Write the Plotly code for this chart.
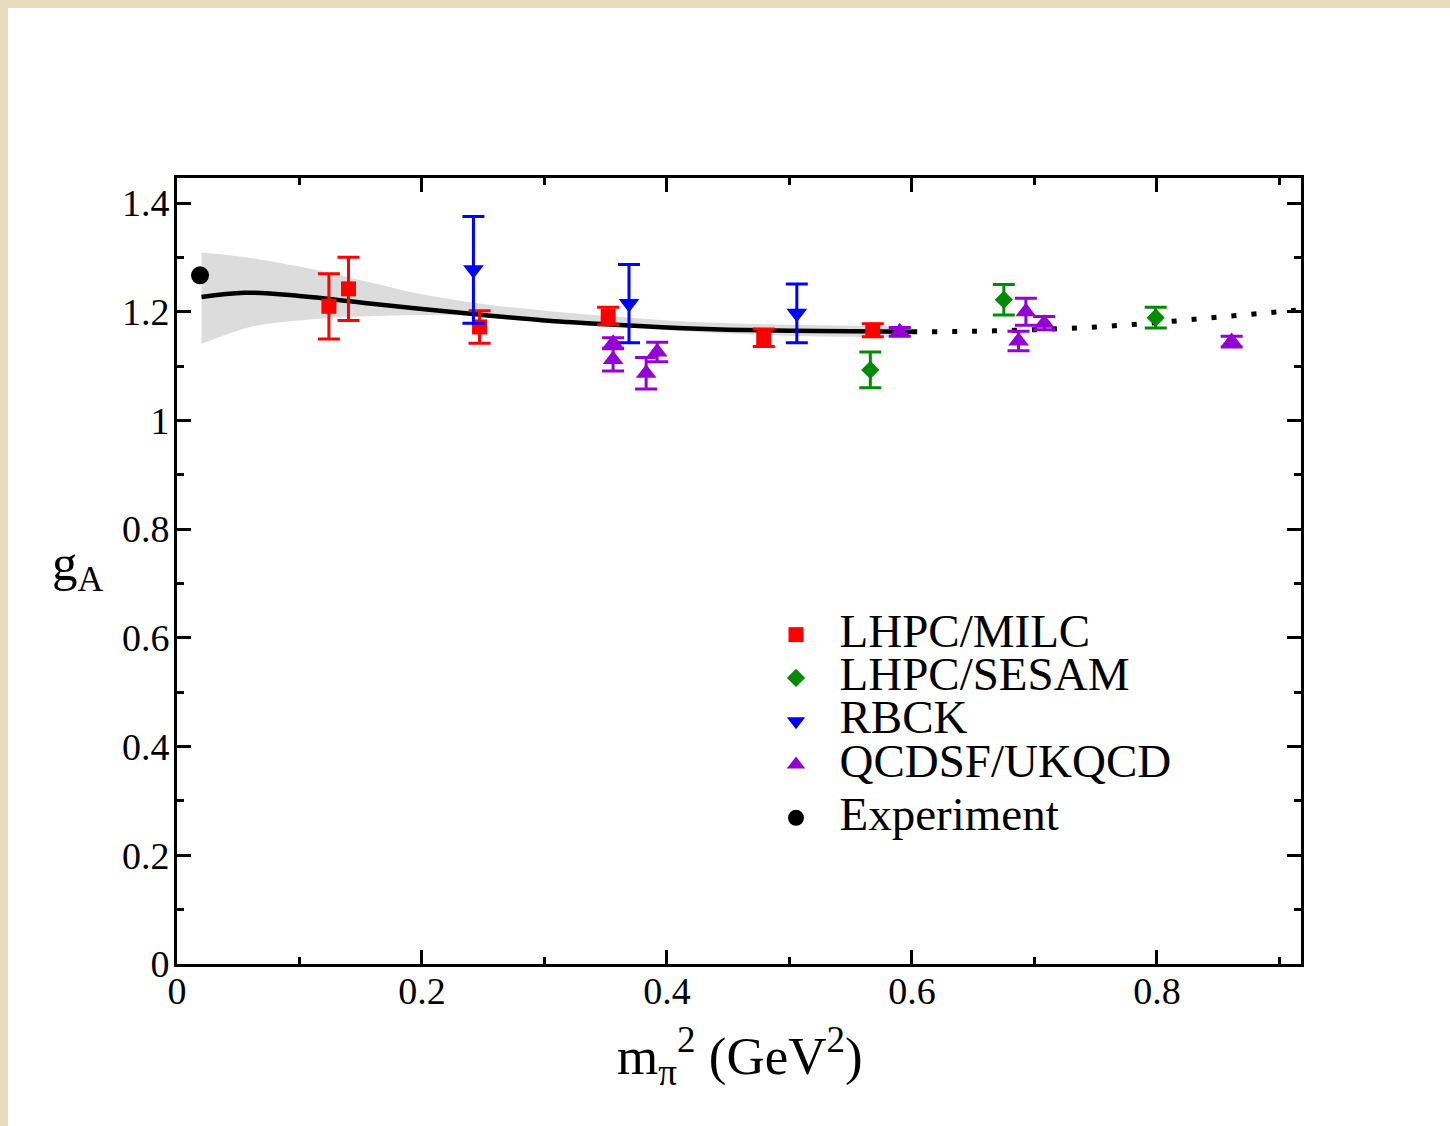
import plotly.graph_objects as go

# ---- data ----
milc_x = [0.124, 0.140, 0.247, 0.352, 0.479, 0.568]
milc_y = [1.210, 1.242, 1.172, 1.192, 1.152, 1.166]
milc_e = [0.060, 0.058, 0.030, 0.016, 0.016, 0.012]

sesam_x = [0.566, 0.675, 0.799]
sesam_y = [1.093, 1.222, 1.189]
sesam_e = [0.033, 0.028, 0.019]

rbck_x = [0.242, 0.369, 0.506]
rbck_y = [1.277, 1.215, 1.197]
rbck_e = [0.098, 0.072, 0.054]

qcdsf_x = [0.356, 0.356, 0.383, 0.392, 0.590, 0.687, 0.693, 0.708, 0.861]
qcdsf_y = [1.142, 1.112, 1.087, 1.126, 1.163, 1.146, 1.200, 1.179, 1.145]
qcdsf_e = [0.010, 0.021, 0.029, 0.018, 0.008, 0.018, 0.025, 0.012, 0.010]

exp_x = [0.0188]
exp_y = [1.267]

fit_x = [0.02, 0.055, 0.10, 0.15, 0.20, 0.25, 0.30, 0.35, 0.40, 0.45, 0.50, 0.55, 0.60]
fit_y = [1.227, 1.235, 1.229, 1.217, 1.205, 1.194, 1.184, 1.177, 1.171, 1.167, 1.165, 1.164, 1.163]

ext_x = [0.60, 0.65, 0.70, 0.75, 0.80, 0.85, 0.90, 0.92]
ext_y = [1.163, 1.164, 1.167, 1.172, 1.180, 1.190, 1.200, 1.204]

band_x = [0.02, 0.06, 0.10, 0.15, 0.20, 0.25, 0.30, 0.35, 0.40, 0.45, 0.50, 0.55, 0.60]
band_hi = [1.309, 1.299, 1.283, 1.258, 1.232, 1.214, 1.202, 1.192, 1.184, 1.179, 1.176, 1.174, 1.173]
band_lo = [1.141, 1.172, 1.184, 1.191, 1.194, 1.192, 1.183, 1.175, 1.166, 1.160, 1.156, 1.154, 1.153]

x_ticks = [0, 0.2, 0.4, 0.6, 0.8]
x_ticklabels = ["0", "0.2", "0.4", "0.6", "0.8"]
y_ticks = [0, 0.2, 0.4, 0.6, 0.8, 1.0, 1.2, 1.4]
y_ticklabels = ["0", "0.2", "0.4", "0.6", "0.8", "1", "1.2", "1.4"]

FONT = "Liberation Serif, Times New Roman, serif"
LEG_SIZE = 47

def leg(name):
    return f'<span style="font-size:{LEG_SIZE}px">&nbsp;&nbsp;{name}</span>'

fig = go.Figure()

# error band
fig.add_trace(go.Scatter(x=band_x, y=band_lo, mode="lines", line=dict(width=0, shape="spline"),
                         showlegend=False, hoverinfo="skip"))
fig.add_trace(go.Scatter(x=band_x, y=band_hi, mode="lines", line=dict(width=0, shape="spline"),
                         fill="tonexty", fillcolor="#dcdcdc", showlegend=False, hoverinfo="skip"))
# fit
fig.add_trace(go.Scatter(x=fit_x, y=fit_y, mode="lines", line=dict(color="black", width=4.5, shape="spline"),
                         showlegend=False))
fig.add_trace(go.Scatter(x=ext_x, y=ext_y, mode="lines",
                         line=dict(color="black", width=5, shape="spline", dash="5px,15px"),
                         showlegend=False))

def series(x, y, e, name, color, symbol, size, group):
    fig.add_trace(go.Scatter(
        x=x, y=y, mode="markers", name=leg(name), legendgroup=group,
        marker=dict(color=color, symbol=symbol, size=size, line=dict(width=0)),
        error_y=dict(type="data", array=e, visible=True, color=color, thickness=3, width=11),
    ))

series(milc_x, milc_y, milc_e, "LHPC/MILC", "#ff0000", "square", 15, "a")
series(sesam_x, sesam_y, sesam_e, "LHPC/SESAM", "#008b00", "diamond", 14, "a")
series(rbck_x, rbck_y, rbck_e, "RBCK", "#0000ff", "triangle-down", 18, "a")
series(qcdsf_x, qcdsf_y, qcdsf_e, "QCDSF/UKQCD", "#9400d3", "triangle-up", 18, "a")
fig.add_trace(go.Scatter(x=exp_x, y=exp_y, mode="markers", name=leg("Experiment"), legendgroup="b",
                         marker=dict(color="black", symbol="circle", size=18)))

axis_common = dict(
    showline=True, linewidth=3, linecolor="black", mirror="ticks",
    ticks="inside", ticklen=14, tickwidth=2.5, tickcolor="black",
    showgrid=False, zeroline=False,
    tickfont=dict(family=FONT, size=38, color="black"),
)

fig.update_xaxes(range=[0, 0.9176], tickvals=x_ticks, ticktext=x_ticklabels,
                 ticklabelstandoff=-9,
                 minor=dict(ticks="inside", ticklen=7, tickwidth=2.5, tickcolor="black", dtick=0.1, tick0=0),
                 **axis_common)
fig.update_yaxes(range=[0, 1.446], tickvals=y_ticks, ticktext=y_ticklabels,
                 ticklabelstandoff=-3,
                 minor=dict(ticks="inside", ticklen=7, tickwidth=2.5, tickcolor="black", dtick=0.1, tick0=0),
                 **axis_common)

# decorative parchment edge
fig.add_shape(type="rect", xref="paper", yref="paper",
              x0=(8 - 177) / 1124, x1=(1460 - 177) / 1124,
              y0=(964 - 1136) / 786, y1=(964 - 8) / 786,
              fillcolor="white", line=dict(width=0), layer="below")

fig.add_annotation(text="g<sub>A</sub>", xref="paper", yref="paper",
                   x=(78 - 177) / 1124, y=(964 - 567) / 786, showarrow=False,
                   xanchor="center", yanchor="middle",
                   font=dict(family=FONT, size=51, color="black"))
fig.add_annotation(text="m<sub>π</sub><sup>2</sup> (GeV<sup>2</sup>)", xref="paper", yref="paper",
                   x=(740 - 177) / 1124, y=(964 - 1056) / 786, showarrow=False,
                   xanchor="center", yanchor="middle",
                   font=dict(family=FONT, size=53, color="black"))

fig.update_layout(
    width=1450, height=1126,
    margin=dict(l=177, r=149, t=178, b=162),
    paper_bgcolor="#e8dcbc", plot_bgcolor="white",
    font=dict(family=FONT, color="black"),
    legend=dict(x=(776 - 177) / 1124, y=(964 - 608) / 786, xanchor="left", yanchor="top",
                bgcolor="rgba(0,0,0,0)", font=dict(family=FONT, size=31, color="black"),
                tracegroupgap=10, traceorder="grouped", itemsizing="trace"),
)

fig.write_html("out.html")
